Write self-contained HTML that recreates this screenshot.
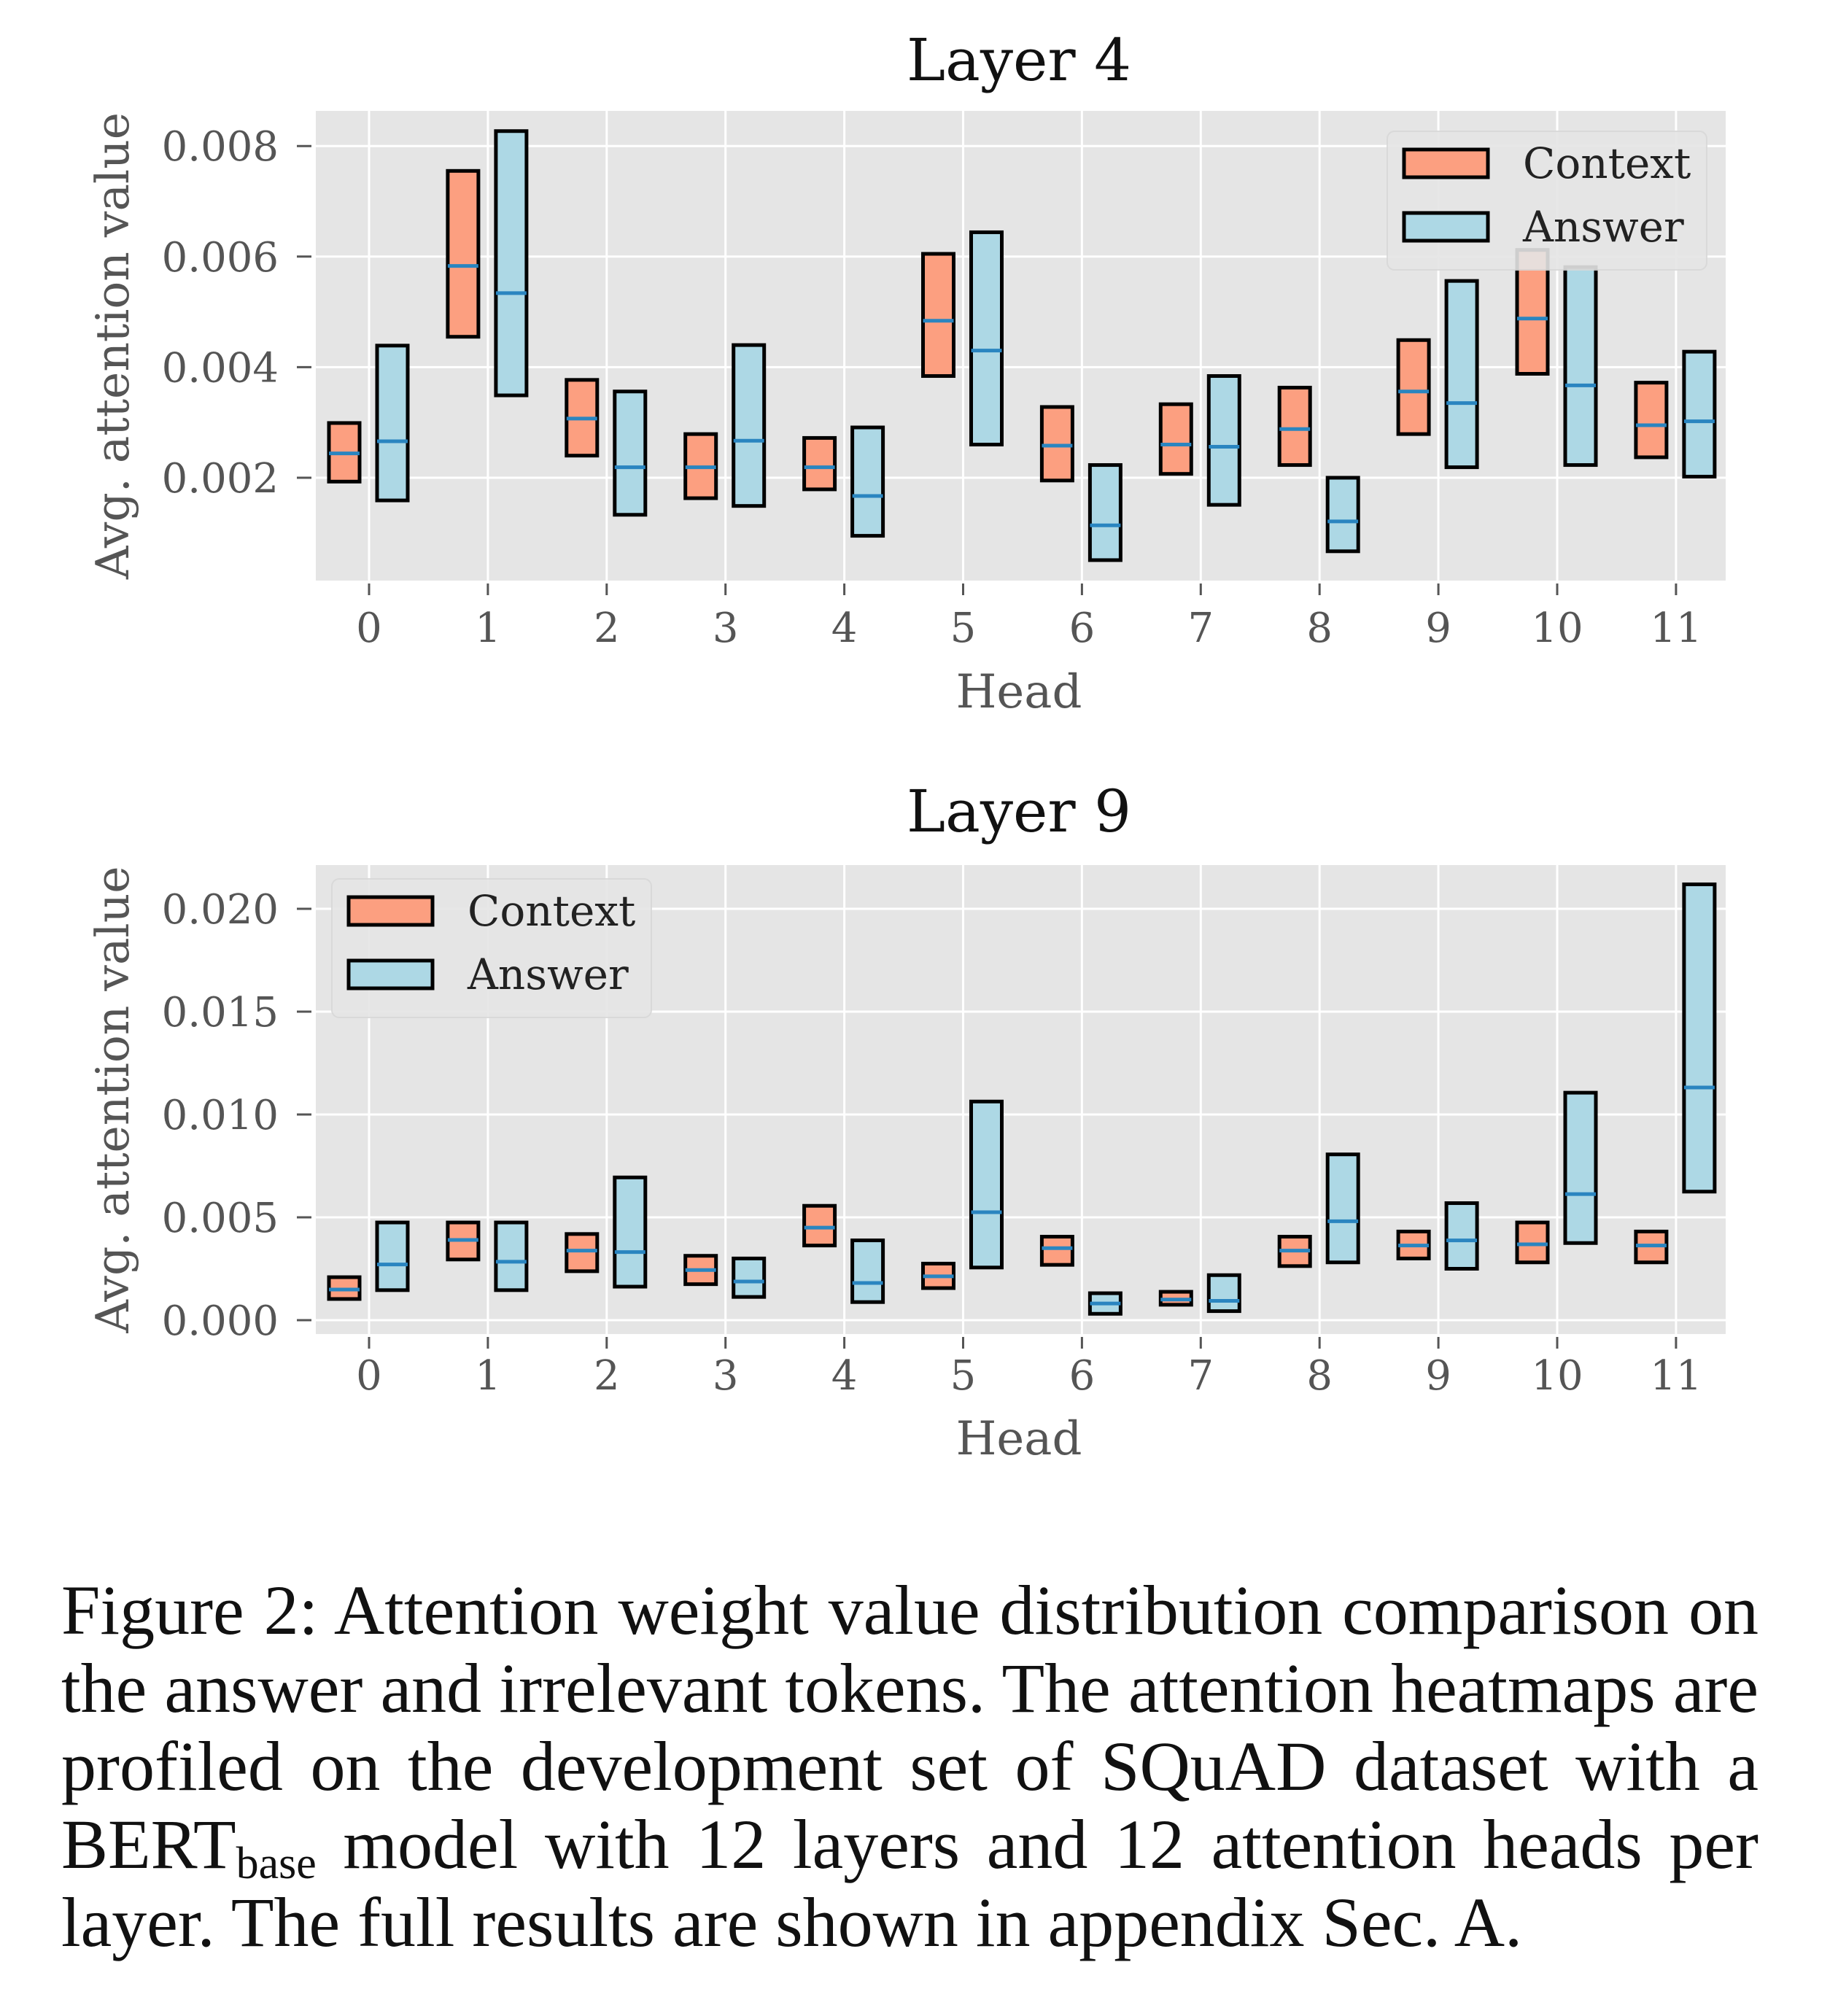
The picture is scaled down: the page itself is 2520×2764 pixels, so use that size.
<!DOCTYPE html>
<html><head><meta charset="utf-8">
<style>
html,body{margin:0;padding:0;background:#fff;}
body{width:2520px;height:2764px;position:relative;overflow:hidden;}
svg{position:absolute;left:0;top:0;}
.cap{position:absolute;left:84px;width:2327px;font-family:"Liberation Serif",serif;font-size:96px;color:#111;white-space:nowrap;}
.j{text-align:justify;text-align-last:justify;}
</style></head>
<body>
<svg id="chart" width="2520" height="2100" font-family="DejaVu Serif, Liberation Serif, serif"></svg>
<div class="cap j" style="top:2152px">Figure 2: Attention weight value distribution comparison on</div>
<div class="cap j" style="top:2259px">the answer and irrelevant tokens. The attention heatmaps are</div>
<div class="cap j" style="top:2366px">profiled on the development set of SQuAD dataset with a</div>
<div class="cap j" style="top:2473px">BERT<sub style="font-size:62px;vertical-align:-14px">base</sub> model with 12 layers and 12 attention heads per</div>
<div class="cap" style="top:2580px">layer. The full results are shown in appendix Sec. A.</div>
<script>
const heads=[0,1,2,3,4,5,6,7,8,9,10,11];
// Layer 4
const l4CtxLow=[0.00193,0.00455,0.0024,0.00163,0.00179,0.00384,0.00195,0.00207,0.00223,0.00279,0.00388,0.00237];
const l4CtxHigh=[0.00299,0.00755,0.00377,0.00279,0.00272,0.00605,0.00328,0.00333,0.00363,0.00449,0.00612,0.00372];
const l4CtxMed=[0.00244,0.00583,0.00307,0.00219,0.00219,0.00484,0.00258,0.0026,0.00288,0.00356,0.00488,0.00295];
const l4AnsLow=[0.00159,0.00349,0.00133,0.00149,0.00095,0.0026,0.00051,0.00151,0.00067,0.00219,0.00223,0.00202];
const l4AnsHigh=[0.00439,0.00827,0.00356,0.0044,0.00291,0.00644,0.00223,0.00384,0.002,0.00556,0.00581,0.00428];
const l4AnsMed=[0.00266,0.00534,0.00219,0.00267,0.00167,0.0043,0.00114,0.00256,0.00121,0.00335,0.00367,0.00302];
const l4Ticks=[0.002,0.004,0.006,0.008];
const l4TickLabels=["0.002","0.004","0.006","0.008"];
// Layer 9
const l9CtxLow=[0.00103,0.00295,0.00238,0.00175,0.00363,0.00156,0.00269,0.00075,0.00263,0.003,0.00281,0.00281];
const l9CtxHigh=[0.00209,0.00475,0.00419,0.00313,0.00556,0.00275,0.00406,0.00138,0.00406,0.00431,0.00475,0.00431];
const l9CtxMed=[0.00149,0.0039,0.00338,0.00244,0.0045,0.00213,0.0035,0.001,0.00338,0.00363,0.00369,0.00363];
const l9AnsLow=[0.00146,0.00146,0.00163,0.00113,0.00088,0.00256,0.00031,0.00044,0.00281,0.0025,0.00375,0.00625];
const l9AnsHigh=[0.00475,0.00475,0.00694,0.003,0.00388,0.01063,0.00131,0.00219,0.00806,0.00569,0.01106,0.02119];
const l9AnsMed=[0.00271,0.00284,0.00331,0.00188,0.00181,0.00525,0.00081,0.00094,0.00481,0.00388,0.00613,0.01131];
const l9Ticks=[0,0.005,0.01,0.015,0.02];
const l9TickLabels=["0.000","0.005","0.010","0.015","0.020"];

const NS="http://www.w3.org/2000/svg";
const svg=document.getElementById('chart');
function el(tag,attrs,parent,text){const e=document.createElementNS(NS,tag);for(const k in attrs)e.setAttribute(k,attrs[k]);if(text!==undefined)e.textContent=text;(parent||svg).appendChild(e);return e;}

function drawPanel(cfg){
  const g=el('g',{});
  
  
  const L=433,R=2366,T=cfg.top,B=cfg.bottom;
  const yv=v=>cfg.y0px-(v-cfg.v0)*cfg.pxPer;
  const xh=h=>506+h*162.9;
  const bg=el('rect',{x:L,y:T,width:R-L,height:B-T,fill:'#e5e5e5'},g);
  
  
  cfg.ticks.forEach((t,i)=>{
    const y=yv(t);
    const gl=el('line',{x1:L,x2:R,y1:y,y2:y,stroke:'#fff','stroke-width':3},g);
    
    
    el('line',{x1:407,x2:427,y1:y,y2:y,stroke:'#555','stroke-width':3},g);
    const tl=el('text',{x:382,y:y+20,'text-anchor':'end','font-size':56,fill:'#555'},g,cfg.tickLabels[i]);
    
    
  });
  heads.forEach(h=>{
    const x=xh(h);
    const gl=el('line',{x1:x,x2:x,y1:T,y2:B,stroke:'#fff','stroke-width':3},g);
    
    
    el('line',{x1:x,x2:x,y1:B+4,y2:B+20,stroke:'#555','stroke-width':3},g);
    const tl=el('text',{x:x,y:cfg.xTickY,'text-anchor':'middle','font-size':56,fill:'#555'},g,String(h));
    
    
  });
  const series=[[cfg.cl,cfg.ch,cfg.cm,-34,'#fc9f80','context'],[cfg.al,cfg.ah,cfg.am,32,'#add8e5','answer']];
  series.forEach(s=>{
    heads.forEach((h,i)=>{
      const cx=xh(h)+s[3],w=42;
      const y1=yv(s[1][i]),y2=yv(s[0][i]);
      const r=el('rect',{x:cx-w/2,y:y1,width:w,height:y2-y1,fill:s[4],stroke:'#000','stroke-width':5},g);
      
      
      const ym=yv(s[2][i]);
      const m=el('line',{x1:cx-w/2,x2:cx+w/2,y1:ym,y2:ym,stroke:'#2a85c0','stroke-width':5},g);
      
      
    });
  });
  const t=el('text',{x:1397,y:cfg.titleY,'text-anchor':'middle','font-size':80,fill:'#111'},g,cfg.title);
  
  
  const xl=el('text',{x:1397,y:cfg.xLabelY,'text-anchor':'middle','font-size':64,fill:'#555'},g,'Head');
  
  
  const yc=(T+B)/2;
  const yl=el('text',{x:0,y:0,'text-anchor':'middle','font-size':63,fill:'#555',transform:'translate(176,'+yc+') rotate(-90)'},g,'Avg. attention value');
  
  
  const lg=el('g',{},g);
  
  
  const lx=cfg.legX,ly=cfg.legY;
  el('rect',{x:lx,y:ly,width:438,height:190,rx:10,fill:'#e5e5e5',stroke:'#d8d8d8','stroke-width':2,opacity:0.9},lg);
  [['Context','#fc9f80',44],['Answer','#add8e5',131]].forEach(e=>{
    const p=el('rect',{x:lx+23,y:ly+e[2]-19,width:115,height:38,fill:e[1],stroke:'#000','stroke-width':5},lg);
    
    
    const tx=el('text',{x:lx+186,y:ly+e[2]+20,'font-size':58,fill:'#222'},lg,e[0]);
    
    
  });
}
drawPanel({name:'layer-4-chart',top:152,bottom:796,y0px:655,v0:0.002,pxPer:75800,ticks:l4Ticks,tickLabels:l4TickLabels,
  cl:l4CtxLow,ch:l4CtxHigh,cm:l4CtxMed,al:l4AnsLow,ah:l4AnsHigh,am:l4AnsMed,title:'Layer 4',titleY:110,xTickY:880,xLabelY:970,legX:1902,legY:180});
drawPanel({name:'layer-9-chart',top:1186,bottom:1829,y0px:1810,v0:0,pxPer:28200,ticks:l9Ticks,tickLabels:l9TickLabels,
  cl:l9CtxLow,ch:l9CtxHigh,cm:l9CtxMed,al:l9AnsLow,ah:l9AnsHigh,am:l9AnsMed,title:'Layer 9',titleY:1140,xTickY:1905,xLabelY:1994,legX:455,legY:1205});
</script>
</body></html>
